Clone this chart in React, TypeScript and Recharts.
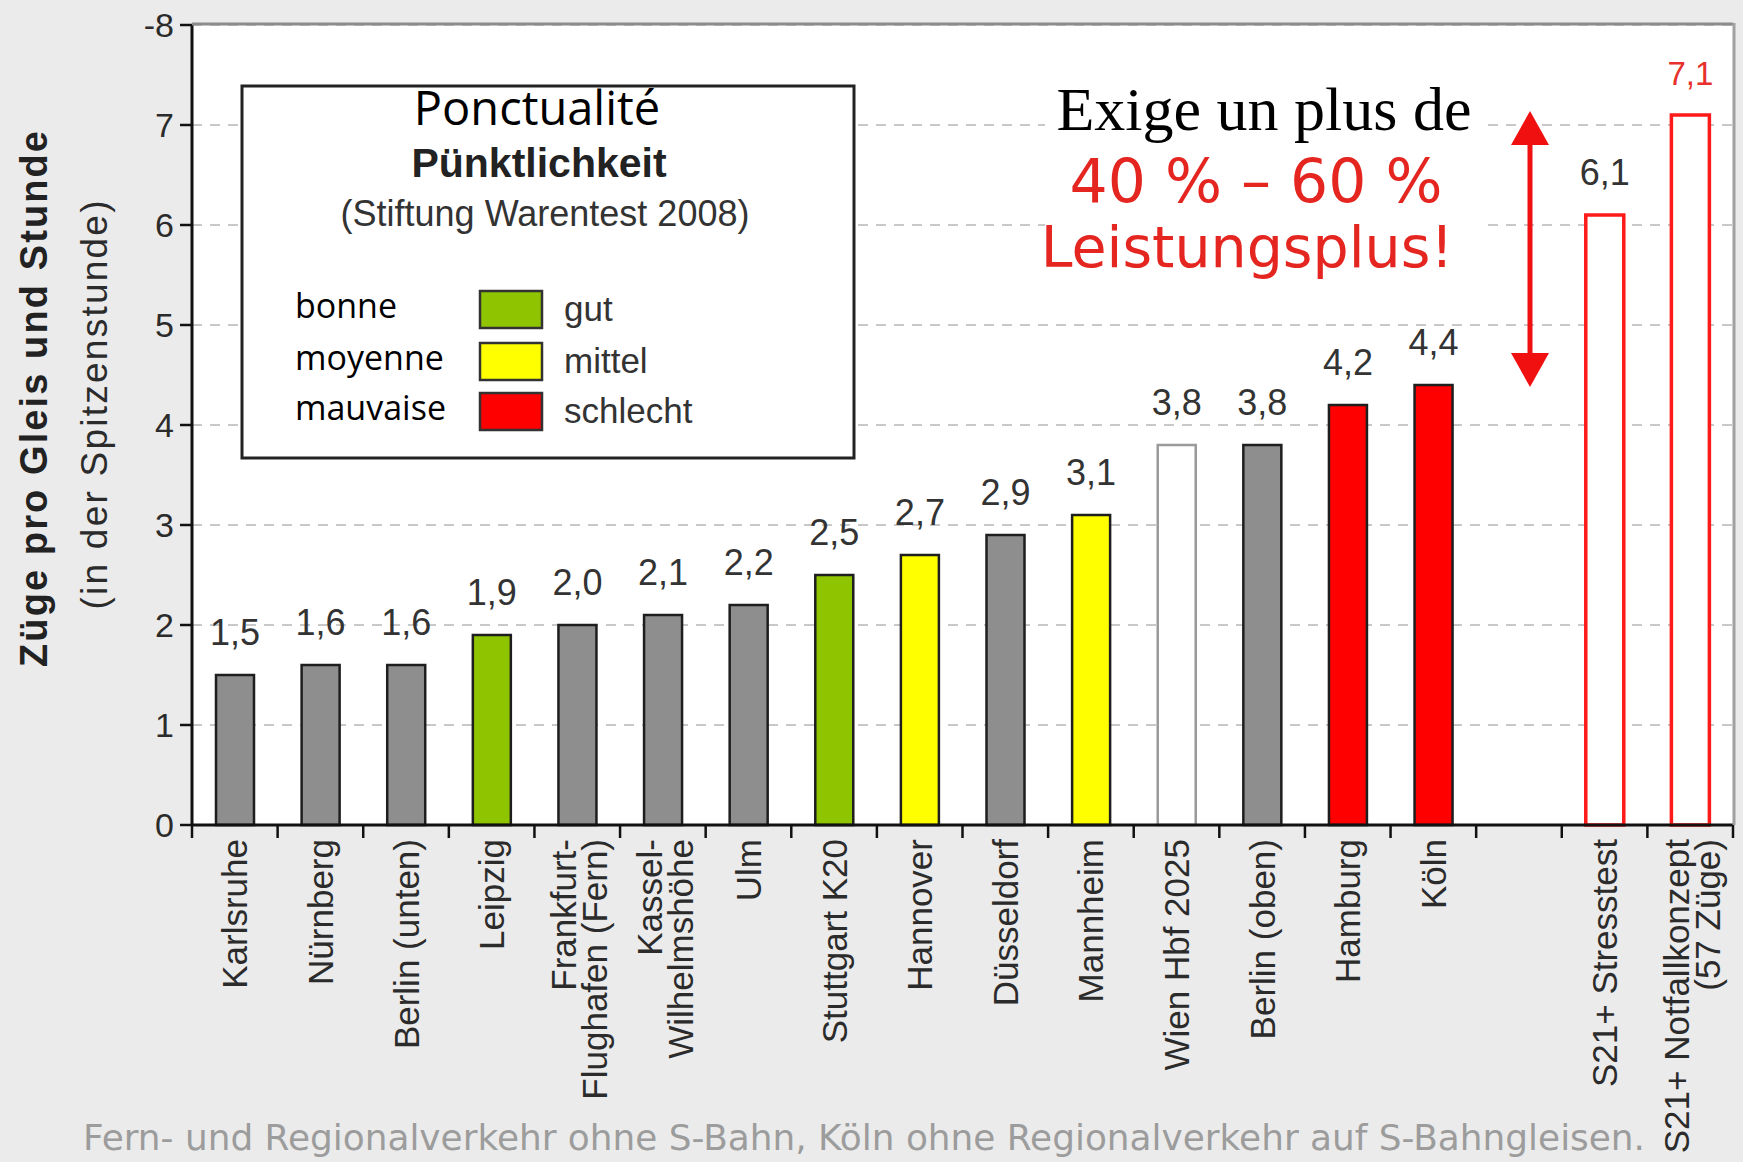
import React from 'react';
import { BarChart, Bar, XAxis, YAxis, CartesianGrid, Cell, LabelList } from 'recharts';

// ---------- data ----------
const categories = [
  'Karlsruhe',
  'Nürnberg',
  'Berlin (unten)',
  'Leipzig',
  'Frankfurt-\nFlughafen (Fern)',
  'Kassel-\nWilhelmshöhe',
  'Ulm',
  'Stuttgart K20',
  'Hannover',
  'Düsseldorf',
  'Mannheim',
  'Wien Hbf 2025',
  'Berlin (oben)',
  'Hamburg',
  'Köln',
  ' ',
  'S21+ Stresstest',
  'S21+ Notfallkonzept\n(57 Züge)',
];
const values: (number | null)[] = [1.5, 1.6, 1.6, 1.9, 2.0, 2.1, 2.2, 2.5, 2.7, 2.9, 3.1, 3.8, 3.8, 4.2, 4.4, null, 6.1, 7.1];
const ratings = ['none', 'none', 'none', 'gut', 'none', 'none', 'none', 'gut', 'mittel', 'none', 'mittel', 'open', 'none', 'schlecht', 'schlecht', 'blank', 's21', 's21'];
const yTicks = [0, 1, 2, 3, 4, 5, 6, 7, 8];
const legendFrench = ['bonne', 'moyenne', 'mauvaise'];
const legendGerman = ['gut', 'mittel', 'schlecht'];
const legendRatings = ['gut', 'mittel', 'schlecht'];

// ---------- layout ----------
const W = 1743;
const H = 1162;
const PLOT_L = 192;
const PLOT_T = 25;
const PLOT_R = 1733;
const PLOT_B = 825;
const Y_W = 80;
const SLOT = (PLOT_R - PLOT_L) / categories.length;
const SANS = "'Liberation Sans', Arial, sans-serif";
const CAL = "'Open Sans', 'Noto Sans', sans-serif";

const FILL: Record<string, string> = {
  none: '#8e8e8e',
  gut: '#8fc400',
  mittel: '#ffff00',
  schlecht: '#ff0000',
  open: '#ffffff',
  s21: '#ffffff',
  blank: '#ffffff',
};
const STROKE: Record<string, string> = {
  none: '#1e1e1e',
  gut: '#1e1e1e',
  mittel: '#1e1e1e',
  schlecht: '#1e1e1e',
  open: '#9a9a9a',
  s21: '#ff1a1a',
  blank: '#ffffff',
};

const data = categories.map((c, i) => ({ name: c, value: values[i] }));

const fmt = (v: number) => v.toFixed(1).replace('.', ',');

function XTick(props: any) {
  const { x, payload, index } = props;
  const lines = String(payload.value).split('\n');
  const n = lines.length;
  const gap = 31;
  const ty = PLOT_B + 14;
  return (
    <g>
      <line x1={x + SLOT / 2} x2={x + SLOT / 2} y1={PLOT_B} y2={PLOT_B + 13} stroke="#111" strokeWidth={2.5} />
      {index === 0 && (
        <line x1={x - SLOT / 2} x2={x - SLOT / 2} y1={PLOT_B} y2={PLOT_B + 13} stroke="#111" strokeWidth={2.5} />
      )}
      {lines.map((ln, i) => {
        const cx = x + (i - (n - 1) / 2) * gap + (n > 1 ? 2 : 0);
        return (
          <text
            key={i}
            x={cx}
            y={ty}
            transform={`rotate(-90 ${cx} ${ty})`}
            textAnchor="end"
            dominantBaseline="central"
            fontSize={35}
            fill="#2b2b2b"
            fontFamily={SANS}
          >
            {ln}
          </text>
        );
      })}
    </g>
  );
}

function ValueLabel(props: any) {
  const { x, y, width, value, index } = props;
  if (value === null || value === undefined) return null;
  const r = ratings[index] ?? (value > 5 ? 's21' : 'none');
  const isS21 = r === 's21';
  return (
    <text
      x={Number(x) + Number(width) / 2}
      y={Number(y) - 30}
      textAnchor="middle"
      fontSize={isS21 ? 33 : 36}
      fill={isS21 ? '#e8302c' : '#333'}
      fontFamily={SANS}
    >
      {fmt(Number(value))}
    </text>
  );
}

export default function App() {
  return (
    <div style={{ position: 'absolute', left: 0, top: 0, width: W, height: H, background: '#ebebeb', overflow: 'hidden' }}>
      <div style={{ position: 'absolute', left: 0, top: 0 }}>
        <BarChart
          width={W}
          height={H}
          data={data}
          margin={{ top: PLOT_T, right: W - PLOT_R, bottom: 0, left: PLOT_L - Y_W }}
        >
          <CartesianGrid
            vertical={false}
            stroke="#c8c8c8"
            strokeWidth={2}
            strokeDasharray="10 8"
            fill="#ffffff"
          />
          <XAxis
            dataKey="name"
            height={H - PLOT_B}
            interval={0}
            tickLine={false}
            tickSize={0}
            axisLine={{ stroke: '#111', strokeWidth: 3 }}
            tick={<XTick />}
          />
          <YAxis
            width={Y_W}
            domain={[0, 8]}
            ticks={yTicks}
            interval={0}
            tickSize={12}
            tickMargin={6}
            tickFormatter={(v: number) => (v === 8 ? '-8' : String(v))}
            axisLine={{ stroke: '#111', strokeWidth: 3 }}
            tickLine={{ stroke: '#111', strokeWidth: 2.5 }}
            tick={{ fill: '#2b2b2b', fontSize: 34, fontFamily: SANS }}
          />
          <Bar dataKey="value" barSize={38} isAnimationActive={false}>
            {data.map((d, i) => (
              <Cell
                key={i}
                fill={FILL[ratings[i]]}
                stroke={STROKE[ratings[i]]}
                strokeWidth={ratings[i] === 's21' ? 3.5 : 2.5}
              />
            ))}
            <LabelList dataKey="value" content={<ValueLabel />} />
          </Bar>
        </BarChart>
      </div>

      <svg width={W} height={H} style={{ position: 'absolute', left: 0, top: 0, pointerEvents: 'none' }}>
        {/* plot frame top/right */}
        <line x1={PLOT_L} x2={PLOT_R} y1={PLOT_T - 1} y2={PLOT_T - 1} stroke="#8c8c8c" strokeWidth={3} />
        <line x1={PLOT_R + 1} x2={PLOT_R + 1} y1={PLOT_T - 2} y2={PLOT_B} stroke="#a0a0a0" strokeWidth={3} />

        {/* y axis title */}
        <text
          transform="translate(34 399) rotate(-90)"
          textAnchor="middle"
          dominantBaseline="central"
          fontWeight="bold"
          fontSize={38}
          fill="#222"
          fontFamily={SANS}
          textLength={536}
          lengthAdjust="spacing"
        >
          Züge pro Gleis und Stunde
        </text>
        <text
          transform="translate(94 405) rotate(-90)"
          textAnchor="middle"
          dominantBaseline="central"
          fontSize={37}
          fill="#2b2b2b"
          fontFamily={SANS}
          textLength={409}
          lengthAdjust="spacing"
        >
          (in der Spitzenstunde)
        </text>

        {/* legend box */}
        <rect x={242} y={86} width={612} height={372} fill="#ffffff" stroke="#222" strokeWidth={3} />
        <text x={537} y={125} textAnchor="middle" fontSize={47} fill="#000" fontFamily={CAL}>
          Ponctualité
        </text>
        <text x={539} y={177} textAnchor="middle" fontSize={41} fontWeight="bold" fill="#222" fontFamily={SANS}>
          Pünktlichkeit
        </text>
        <text x={545} y={226} textAnchor="middle" fontSize={36} fill="#333" fontFamily={SANS}>
          (Stiftung Warentest 2008)
        </text>
        {legendRatings.map((r, i) => {
          const top = [291, 343, 393][i];
          return (
            <g key={r}>
              <text x={295} y={top + 27} fontSize={34} fill="#000" fontFamily={CAL}>
                {legendFrench[i]}
              </text>
              <rect x={480} y={top} width={62} height={37} fill={FILL[r]} stroke="#333" strokeWidth={2.5} />
              <text x={564} y={top + 30} fontSize={35} fill="#333" fontFamily={SANS}>
                {legendGerman[i]}
              </text>
            </g>
          );
        })}

        {/* annotation */}
        <rect x={1045} y={97} width={438} height={200} fill="#ffffff" />
        <text x={1264} y={130} textAnchor="middle" fontSize={62} fill="#000" fontFamily="'Liberation Serif', 'Times New Roman', serif">
          Exige un plus de
        </text>
        <text x={1256} y={202} textAnchor="middle" fontSize={60} fill="#e42520" fontFamily="'DejaVu Sans', Verdana, sans-serif">
          40 % – 60 %
        </text>
        <text x={1247} y={267} textAnchor="middle" fontSize={57} fill="#e42520" fontFamily="'DejaVu Sans', Verdana, sans-serif">
          Leistungsplus!
        </text>

        {/* double arrow */}
        <line x1={1530} x2={1530} y1={135} y2={362} stroke="#f01010" strokeWidth={5} />
        <polygon points="1530,111 1511,145 1549,145" fill="#f01010" />
        <polygon points="1530,387 1511,353 1549,353" fill="#f01010" />

        {/* footer */}
        <text
          x={864}
          y={1150}
          textAnchor="middle"
          fontSize={35}
          fill="#9c9c9c"
          fontFamily="'DejaVu Sans', Verdana, sans-serif"
          textLength={1562}
          lengthAdjust="spacingAndGlyphs"
        >
          Fern- und Regionalverkehr ohne S-Bahn, Köln ohne Regionalverkehr auf S-Bahngleisen.
        </text>
      </svg>
    </div>
  );
}
